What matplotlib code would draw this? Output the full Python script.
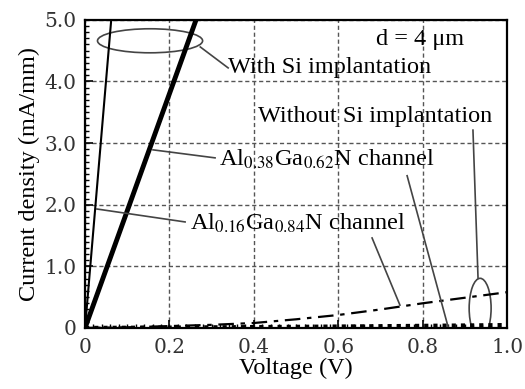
import numpy as np
import matplotlib
matplotlib.use("Agg")
import matplotlib.pyplot as plt
from matplotlib.patches import Ellipse
from matplotlib.ticker import MultipleLocator

plt.rcParams['font.family'] = ['Liberation Serif', 'DejaVu Serif']
plt.rcParams['mathtext.fontset'] = 'stix'

# with Si implantation (linear ohmic curves)
v_si_016 = [0.0, 0.062]
i_si_016 = [0.0, 5.0]
v_si_038 = [0.0, 0.263]
i_si_038 = [0.0, 5.0]

# without Si implantation
v_nosi = [0.0, 0.1, 0.2, 0.3, 0.4, 0.5, 0.6, 0.7, 0.8, 0.9, 1.0]
i_nosi_016 = [0.0, 0.01, 0.03, 0.05, 0.08, 0.14, 0.21, 0.30, 0.40, 0.49, 0.58]
i_nosi_038 = [0.0, 0.003, 0.006, 0.01, 0.014, 0.018, 0.023, 0.028, 0.034, 0.04, 0.047]

x_ticks = [0, 0.2, 0.4, 0.6, 0.8, 1.0]
x_ticklabels = ['0', '0.2', '0.4', '0.6', '0.8', '1.0']
y_ticks = [0, 1, 2, 3, 4, 5]
y_ticklabels = ['0', '1.0', '2.0', '3.0', '4.0', '5.0']

fig = plt.figure(figsize=(5.25, 3.89), dpi=100)
ax = fig.add_axes([0.162, 0.157, 0.804, 0.792])

ax.plot(v_si_016, i_si_016, color='black', lw=1.5)
ax.plot(v_si_038, i_si_038, color='black', lw=3.5)
ax.plot(v_nosi, i_nosi_016, color='black', lw=1.6, linestyle=(0, (7, 3, 2, 3)))
ax.plot(v_nosi, i_nosi_038, color='black', lw=3, linestyle=(0, (1, 1.2)))

ax.set_xlim(0, 1.0)
ax.set_ylim(0, 5.0)
ax.set_xticks(x_ticks)
ax.set_xticklabels(x_ticklabels, family='DejaVu Serif', color='#333333')
ax.set_yticks(y_ticks)
ax.set_yticklabels(y_ticklabels, family='DejaVu Serif', color='#333333')
ax.xaxis.set_minor_locator(MultipleLocator(0.02))
ax.yaxis.set_minor_locator(MultipleLocator(0.1))
ax.tick_params(which='major', direction='in', length=6, width=1.2, labelsize=14.5,
               top=False, right=False)
ax.tick_params(which='minor', direction='in', length=3, width=1.0, top=False, right=False)
ax.tick_params(axis='x', pad=7)
ax.tick_params(axis='y', pad=6)
ax.grid(True, which='major', color='#555555', linestyle=(0, (3, 2)), lw=1.0)
for s in ax.spines.values():
    s.set_linewidth(1.6)

ax.set_xlabel('Voltage (V)', fontsize=17.5, labelpad=1)
ax.set_ylabel('Current density (mA/mm)', fontsize=17.5, labelpad=3)

fs = 17.5
lc = '#444444'
ax.add_patch(Ellipse((0.154, 4.66), 0.249, 0.39, fill=False, ec=lc, lw=1.2))
ax.plot([0.273, 0.339], [4.56, 4.22], color=lc, lw=1.2)
ax.text(0.339, 4.22, 'With Si implantation', fontsize=fs, va='center', ha='left')
ax.text(0.69, 4.68, 'd = 4 μm', fontsize=fs, va='center', ha='left')

ax.text(0.41, 3.43, 'Without Si implantation', fontsize=fs, va='center', ha='left')
ax.plot([0.919, 0.931], [3.21, 0.81], color=lc, lw=1.2)
ax.add_patch(Ellipse((0.936, 0.32), 0.052, 0.97, fill=False, ec=lc, lw=1.2))

ax.text(0.318, 2.73, r'Al$_{\mathrm{0.38}}$Ga$_{\mathrm{0.62}}$N channel', fontsize=fs,
        va='center', ha='left')
ax.plot([0.161, 0.308], [2.89, 2.76], color=lc, lw=1.2)
ax.plot([0.763, 0.86], [2.47, 0.02], color=lc, lw=1.2)

ax.text(0.249, 1.70, r'Al$_{\mathrm{0.16}}$Ga$_{\mathrm{0.84}}$N channel', fontsize=fs,
        va='center', ha='left')
ax.plot([0.028, 0.237], [1.93, 1.72], color=lc, lw=1.2)
ax.plot([0.68, 0.746], [1.46, 0.37], color=lc, lw=1.2)

fig.savefig('out.png', dpi=100)
